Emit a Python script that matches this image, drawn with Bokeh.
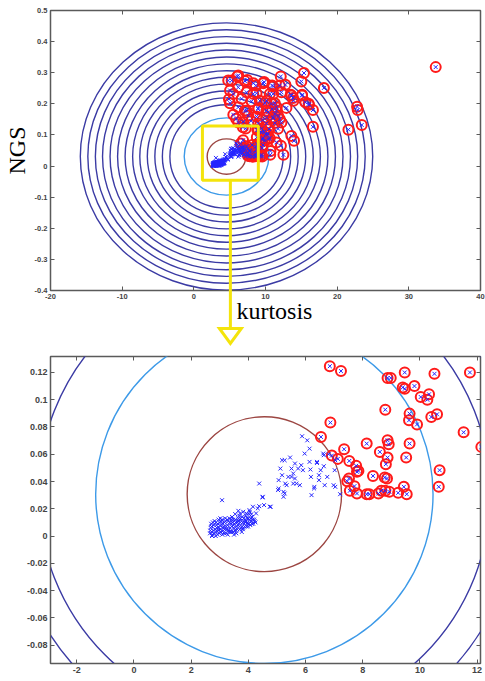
from bokeh.plotting import figure
from bokeh.layouts import column
from bokeh.models import LinearAxis, FixedTicker, Range1d
from bokeh.core.properties import value
from bokeh.embed import file_html
from bokeh.resources import INLINE

# ---------------- data ----------------
normal_x = [2.66, 2.68, 2.70, 2.74, 2.77, 2.79, 2.82, 2.86, 2.88, 2.90, 2.93, 2.96, 2.98, 3.01, 3.03, 3.06,
            3.09, 3.12, 3.14, 3.17, 3.19, 3.22, 3.25, 3.27, 3.30, 3.33, 3.36, 3.38, 3.41, 3.43, 3.46, 3.49,
            3.51, 3.54, 3.57, 3.60, 3.62, 3.65, 3.68, 3.70, 3.73, 3.76, 3.79, 3.82, 3.85, 3.88, 3.91, 3.94,
            3.97, 4.00, 4.03, 4.07, 4.10, 4.13, 4.17, 4.20, 4.25, 2.72, 2.95, 3.10, 3.28, 3.45, 3.58, 3.75,
            3.92, 4.05,
            2.67, 2.71, 2.76, 2.80, 2.84, 2.89, 2.92, 2.97, 3.00, 3.04, 3.08, 3.11, 3.16, 3.20, 3.23, 3.26,
            3.31, 3.35, 3.39, 3.42, 3.47, 3.50, 3.53, 3.56, 3.61, 3.64, 3.67, 3.72, 3.77, 3.80, 3.84, 3.87,
            3.90, 3.96, 3.99, 4.02, 4.08, 4.12, 4.15, 4.22, 2.73, 2.87, 3.02, 3.18, 3.34, 3.48, 3.63, 3.81,
            3.98, 4.11,
            3.08, 3.54, 3.65, 3.71, 3.82, 3.93, 4.04, 4.16, 4.38, 4.55, 4.75, 4.50, 4.05, 4.27, 4.33, 4.38,
            4.50, 4.78, 5.04, 5.27, 5.06, 5.34, 5.57, 5.51, 5.12, 5.51, 5.18, 5.27, 5.46, 5.63, 5.85, 6.14,
            6.40, 6.62, 6.81, 7.04, 6.64, 6.47, 6.31, 6.21, 6.76, 6.98, 7.21, 5.88, 6.06, 6.14, 5.97, 5.18,
            5.29, 5.06, 5.23, 5.63, 5.68, 5.80, 6.19, 6.30, 6.67, 6.47, 5.23, 6.64, 6.40, 7.02, 6.53, 6.17,
            5.91, 5.74, 5.57, 5.40, 7.04]
normal_y = [0.002, 0.006, 0.009, 0.001, 0.004, 0.008, 0.011, 0.000, 0.003, 0.006, 0.009, 0.012, 0.002, 0.005, 0.008, 0.011,
            0.001, 0.004, 0.007, 0.010, 0.013, 0.002, 0.005, 0.008, 0.011, 0.003, 0.006, 0.009, 0.012, 0.014, 0.003, 0.006,
            0.009, 0.012, 0.004, 0.007, 0.010, 0.013, 0.015, 0.005, 0.008, 0.011, 0.014, 0.006, 0.009, 0.012, 0.015, 0.007,
            0.010, 0.013, 0.016, 0.008, 0.011, 0.014, 0.009, 0.012, 0.010, 0.003, 0.004, 0.009, 0.001, 0.010, 0.002, 0.006,
            0.011, 0.012,
            0.004, 0.007, 0.010, 0.002, 0.005, 0.008, 0.001, 0.006, 0.010, 0.003, 0.012, 0.006, 0.002, 0.011, 0.007, 0.012,
            0.004, 0.010, 0.003, 0.007, 0.012, 0.001, 0.004, 0.010, 0.005, 0.008, 0.011, 0.013, 0.003, 0.010, 0.013, 0.007,
            0.010, 0.013, 0.007, 0.009, 0.013, 0.009, 0.012, 0.011, 0.000, 0.010, 0.013, 0.005, 0.013, 0.008, 0.011, 0.005,
            0.009, 0.016,
            0.0263, 0.0161, 0.0185, 0.0166, 0.0178, 0.0166, 0.0190, 0.0215, 0.0219, 0.0227, 0.0215, 0.0283, 0.0178, 0.0166, 0.0203, 0.0385,
            0.0288, 0.0215, 0.0337, 0.0312, 0.0410, 0.0373, 0.0385, 0.0434, 0.0495, 0.0495, 0.0556, 0.0556, 0.0576, 0.0532, 0.0520, 0.0544,
            0.0544, 0.0605, 0.0600, 0.0556, 0.0512, 0.0446, 0.0361, 0.0300, 0.0434, 0.0373, 0.0307, 0.0732, 0.0702, 0.0641, 0.0605, 0.0446,
            0.0385, 0.0349, 0.0324, 0.0422, 0.0385, 0.0373, 0.0434, 0.0349, 0.0373, 0.0410, 0.0288, 0.0593, 0.0536, 0.0483, 0.0483, 0.0488,
            0.0483, 0.0495, 0.0459, 0.0434, 0.0361]

anomaly_x = [6.85, 7.24, 8.87, 8.98, 9.47, 10.51, 11.75, 9.40, 9.47, 9.81, 10.03, 10.26, 10.32, 8.79, 9.64, 9.62,
             9.90, 10.40, 10.60, 11.53, 12.15, 6.87, 6.54, 7.35, 6.92, 7.13, 7.53, 7.77, 7.80, 7.85, 7.52, 7.46,
             7.71, 7.55, 7.80, 8.14, 8.14, 8.23, 8.55, 8.65, 8.79, 8.93, 9.24, 9.44, 9.54, 8.60, 8.87, 8.91,
             8.87, 8.81, 8.36, 8.77, 8.85, 9.64, 9.52, 10.69, 10.66,
             33.75, 15.37, 15.00, 12.13, 18.15, 12.78, 11.07, 9.81, 8.66, 7.45, 6.20, 13.52, 13.84, 15.10, 12.22, 10.60,
             8.29, 10.14, 15.56, 16.07, 16.62, 12.92, 10.93, 8.98, 7.36, 22.78, 22.87, 23.43, 21.57, 16.62, 13.61, 13.98,
             12.50, 11.76, 11.07, 10.14,
             13.61, 15.09, 13.90, 16.02, 11.53, 11.30, 11.99, 12.22, 10.83,
             6.06, 7.13, 8.29, 9.68, 10.93, 11.99, 5.28, 5.05, 6.20, 7.36, 8.75, 11.07, 5.51, 6.67, 8.06, 9.21,
             9.90, 11.30, 5.05, 6.20, 7.13, 8.98, 10.37, 11.53, 5.51, 7.59, 8.75, 10.14, 11.07, 6.20, 8.98, 10.14,
             11.30, 4.80, 4.90, 5.90, 6.90, 8.00, 9.60]
anomaly_y = [0.1246, 0.1210, 0.1160, 0.1160, 0.1200, 0.1190, 0.1200, 0.1090, 0.1080, 0.1100, 0.1020, 0.1000, 0.1040, 0.0927, 0.0898, 0.0849,
             0.0819, 0.0873, 0.0893, 0.0761, 0.0654, 0.0832, 0.0727, 0.0637, 0.0590, 0.0566, 0.0551, 0.0515, 0.0471, 0.0478, 0.0422, 0.0402,
             0.0366, 0.0332, 0.0312, 0.0678, 0.0307, 0.0307, 0.0312, 0.0332, 0.0332, 0.0325, 0.0317, 0.0361, 0.0307, 0.0617, 0.0702, 0.0673,
             0.0576, 0.0527, 0.0441, 0.0429, 0.0422, 0.0678, 0.0576, 0.0483, 0.0361,
             0.318, 0.299, 0.272, 0.288, 0.251, 0.261, 0.256, 0.270, 0.259, 0.277, 0.291, 0.229, 0.219, 0.229, 0.237, 0.232,
             0.232, 0.210, 0.205, 0.197, 0.180, 0.187, 0.183, 0.183, 0.178, 0.191, 0.180, 0.132, 0.117, 0.126, 0.097, 0.081,
             0.036, 0.162, 0.156, 0.178,
             0.2265, 0.2265, 0.210, 0.200, 0.189, 0.167, 0.151, 0.140, 0.200,
             0.288, 0.273, 0.266, 0.266, 0.259, 0.259, 0.275, 0.243, 0.253, 0.237, 0.234, 0.232, 0.232, 0.216, 0.208, 0.210,
             0.202, 0.202, 0.202, 0.189, 0.178, 0.187, 0.173, 0.178, 0.165, 0.162, 0.159, 0.156, 0.154, 0.140, 0.137, 0.137,
             0.138, 0.275, 0.215, 0.152, 0.142, 0.145, 0.148]

# contour rings (x half-width, y half-height), centred on the normal class
ring_cx = 4.56
ring_cy = 0.0307
ring_rx = [2.70, 5.90, 7.90, 8.95, 10.0, 11.05, 12.1, 13.1, 14.15, 15.2, 16.25, 17.3, 18.3, 19.35, 20.4]
ring_ry = [0.0568, 0.1242, 0.1663, 0.1884, 0.2105, 0.2326, 0.2547, 0.2758, 0.2979, 0.3200, 0.3421, 0.3642,
           0.3853, 0.4074, 0.4295]
ring_color = ["#9c4642", "#3d9ae8"] + ["#3b3ba4"] * 13

top_xticks = [-20, -10, 0, 10, 20, 30, 40]
top_xlabels = ["-20", "-10", "0", "10", "20", "30", "40"]
top_yticks = [-0.4, -0.3, -0.2, -0.1, 0, 0.1, 0.2, 0.3, 0.4, 0.5]
top_ylabels = ["-0.4", "-0.3", "-0.2", "-0.1", "0", "0.1", "0.2", "0.3", "0.4", "0.5"]
bot_xticks = [-2, 0, 2, 4, 6, 8, 10, 12]
bot_xlabels = ["-2", "0", "2", "4", "6", "8", "10", "12"]
bot_yticks = [-0.08, -0.06, -0.04, -0.02, 0, 0.02, 0.04, 0.06, 0.08, 0.1, 0.12]
bot_ylabels = ["-0.08", "-0.06", "-0.04", "-0.02", "0", "0.02", "0.04", "0.06", "0.08", "0.1", "0.12"]

zoom_left, zoom_right, zoom_bottom, zoom_top = 1.2, 9.0, -0.046, 0.129
arrow_x = 5.1
arrow_head_top = -0.522
arrow_tip = -0.570
arrow_half_w = 1.53
xlabel_text = "kurtosis"
xlabel_x = 11.25
xlabel_y = -0.466

YELLOW = "#f4e40c"
AX = "#5a5a5a"


def style(p, xt, xl, yt, yl, fs):
    main_x, main_y = p.below[0], p.left[0]
    for ax, t, l in ((main_x, xt, xl), (main_y, yt, yl)):
        ax.ticker = FixedTicker(ticks=t)
        ax.major_label_overrides = dict(zip(t, l))
        ax.major_tick_in = 4
        ax.major_tick_out = 0
        ax.minor_tick_line_color = None
        ax.axis_line_color = AX
        ax.major_tick_line_color = AX
        ax.major_label_text_font = "Liberation Sans"
        ax.major_label_text_font_size = fs
        ax.major_label_text_font_style = "bold"
        ax.major_label_text_color = "#444444"
        ax.major_label_standoff = 3
    # box-style ticks on the top and right edges (no labels)
    for loc, t in (("above", xt), ("right", yt)):
        ax = LinearAxis(ticker=FixedTicker(ticks=t), major_label_overrides={v: "" for v in t},
                        major_label_text_font_size="1px", major_label_standoff=0,
                        major_tick_in=4, major_tick_out=0, minor_tick_line_color=None,
                        axis_line_color=None, major_tick_line_color=AX)
        p.add_layout(ax, loc)
    p.grid.visible = False
    p.outline_line_color = AX
    p.outline_line_width = 1.5
    p.background_fill_color = "white"
    p.border_fill_color = "white"
    return main_x, main_y


def draw_data(p):
    n = len(ring_rx)
    p.ellipse(x=[ring_cx] * n, y=[ring_cy] * n, width=[2 * r for r in ring_rx],
              height=[2 * r for r in ring_ry], fill_color=None, line_color=ring_color, line_width=1.4)
    p.scatter(anomaly_x, anomaly_y, marker="circle", size=10, fill_color=None,
              line_color="#ff1a1a", line_width=2)
    p.scatter(normal_x + anomaly_x, normal_y + anomaly_y, marker="x", size=5.5,
              line_color="#2424ff", line_width=1)


# ---------------- top panel ----------------
top = figure(width=485, height=352, x_range=Range1d(-20, 40), y_range=Range1d(-0.4, 0.5),
             min_border_left=48, min_border_right=5, min_border_top=10, min_border_bottom=62,
             output_backend="svg", toolbar_location=None)
xa, ya = style(top, top_xticks, top_xlabels, top_yticks, top_ylabels, "7.5px")
ya.axis_label = "NGS"
ya.axis_label_text_font = "Liberation Serif"
ya.axis_label_text_font_size = "24px"
ya.axis_label_text_font_style = "normal"
ya.axis_label_text_color = "black"
ya.axis_label_standoff = 2
draw_data(top)
top.quad(left=[zoom_left], right=[zoom_right], bottom=[zoom_bottom], top=[zoom_top],
         fill_color=None, line_color=YELLOW, line_width=3)
top.line(x=[arrow_x, arrow_x, arrow_x - arrow_half_w, arrow_x, arrow_x + arrow_half_w, arrow_x],
         y=[zoom_bottom, arrow_head_top, arrow_head_top, arrow_tip, arrow_head_top, arrow_head_top],
         line_color=YELLOW, line_width=3, line_join="miter", level="overlay")
# x-axis title, placed just right of the arrow as in the original
top.text(x=[xlabel_x], y=[xlabel_y], text=[xlabel_text], text_font=value("Liberation Serif"),
         text_font_size=value("24px"), text_align="center", text_baseline="alphabetic",
         text_color="black", level="overlay")

# ---------------- bottom panel ----------------
bot = figure(width=485, height=329, x_range=Range1d(-2.92, 12.12), y_range=Range1d(-0.0935, 0.1317),
             min_border_left=38, min_border_right=3, min_border_top=4, min_border_bottom=18,
             output_backend="svg", toolbar_location=None)
style(bot, bot_xticks, bot_xlabels, bot_yticks, bot_ylabels, "9px")
draw_data(bot)

layout = column(top, bot, spacing=0)
open("out.html", "w").write(file_html(layout, INLINE))
